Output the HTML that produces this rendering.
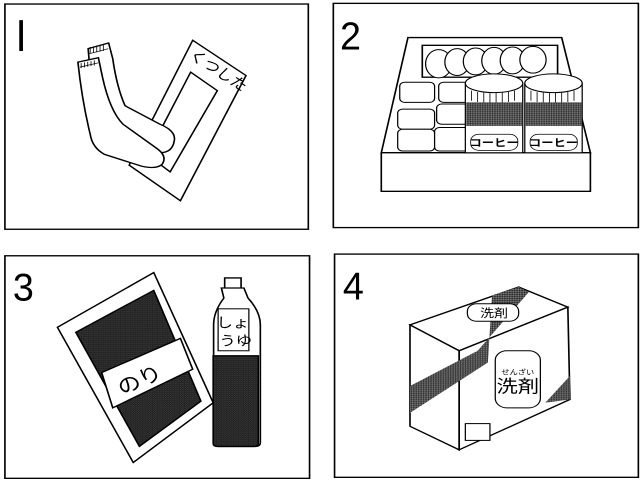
<!DOCTYPE html>
<html><head><meta charset="utf-8"><style>
html,body{margin:0;padding:0;background:#fff;width:640px;height:480px;overflow:hidden}
svg{display:block}
text{font-family:"Liberation Sans","Noto Sans CJK JP",sans-serif}
</style></head><body>
<svg width="640" height="480" viewBox="0 0 1561 1430" preserveAspectRatio="none" xmlns="http://www.w3.org/2000/svg">
<defs>
<pattern id="dk" width="6" height="6" patternUnits="userSpaceOnUse"><rect width="6" height="6" fill="#222"/><rect x="1" y="2" width="2" height="1" fill="#777"/><rect x="4" y="4" width="1" height="1" fill="#999"/></pattern>
<pattern id="md" width="6" height="6" patternUnits="userSpaceOnUse"><rect width="6" height="6" fill="#555"/><rect x="0" y="0" width="3" height="3" fill="#222"/><rect x="3" y="3" width="2" height="2" fill="#aaa"/></pattern>
</defs>
<g fill="none" stroke="#000" stroke-width="4">
<rect x="12" y="12" width="740" height="671"/>
<rect x="813" y="10" width="744" height="668"/>
<rect x="12" y="762" width="743" height="663"/>
<rect x="816" y="757" width="741" height="665"/>
</g>
<rect x="47" y="60" width="9" height="92" fill="#000"/>
<g font-size="115" fill="#000" text-anchor="middle">
<text x="855" y="148" transform="translate(855,0) scale(0.8,1) translate(-855,0)">2</text>
<text x="57" y="895" transform="translate(57,0) scale(0.8,1) translate(-57,0)">3</text>
<text x="862" y="893" transform="translate(862,0) scale(0.8,1) translate(-862,0)">4</text>
</g>

<!-- Panel 1 -->
<g fill="#fff" stroke="#000" stroke-width="4">
<polygon points="470,120 600,225 440,598 315,492"/>
<polygon points="465,215 530,270 415,512 360,462"/>
<path d="M215,145 L265,128 L275,175 Q285,260 305,315 L390,370 Q430,390 425,420 Q420,455 390,455 L330,445 Q255,420 240,370 Q225,300 215,145Z"/>
<path d="M190,185 L240,172 L250,230 Q268,330 300,370 L380,440 Q410,465 395,490 Q380,505 345,495 L255,460 Q225,440 220,400 Q200,300 190,185Z"/>
</g>
<g stroke="#000" stroke-width="2">
<path d="M218,160 L264,145 M195,200 L240,187 M220,140 v20 M228,138 v20 M236,136 v20 M244,134 v20 M252,132 v20 M198,188 v15 M206,186 v15 M214,184 v15 M222,182 v15 M230,180 v15"/>
</g>
<text x="0" y="0" font-size="42" transform="translate(458,170) rotate(38)" fill="#000">くつした</text>

<!-- Panel 2 -->
<g fill="#fff" stroke="#000" stroke-width="4">
<polygon points="995,112 1370,112 1440,455 930,455"/>
<rect x="1030" y="135" width="330" height="95"/>
<rect x="930" y="455" width="510" height="115"/>
</g>
<g fill="#fff" stroke="#000" stroke-width="3">
<ellipse cx="1070" cy="190" rx="32" ry="42"/><ellipse cx="1115" cy="185" rx="30" ry="40"/><ellipse cx="1160" cy="183" rx="30" ry="40"/><ellipse cx="1205" cy="181" rx="30" ry="40"/><ellipse cx="1250" cy="180" rx="30" ry="40"/><ellipse cx="1300" cy="178" rx="32" ry="40"/>
<rect x="975" y="245" width="85" height="60" rx="12"/><rect x="970" y="325" width="90" height="60" rx="12"/><rect x="970" y="385" width="90" height="65" rx="12"/>
<rect x="1070" y="245" width="75" height="60" rx="12"/><rect x="1065" y="310" width="80" height="60" rx="12"/><rect x="1060" y="380" width="85" height="70" rx="12"/>
<rect x="1135" y="250" width="140" height="205"/><rect x="1280" y="250" width="140" height="205"/>
<ellipse cx="1205" cy="248" rx="70" ry="28"/><ellipse cx="1350" cy="248" rx="70" ry="28"/>
</g>
<g stroke="#000" stroke-width="2">
<path d="M1150,270v30M1165,274v30M1180,276v30M1195,277v30M1210,277v30M1225,276v30M1240,274v30M1255,270v30"/>
<path d="M1295,270v30M1310,274v30M1325,276v30M1340,277v30M1355,277v30M1370,276v30M1385,274v30M1400,270v30"/>
</g>
<rect x="1137" y="305" width="136" height="70" fill="url(#md)"/>
<rect x="1282" y="305" width="136" height="70" fill="url(#md)"/>
<g stroke="#000" stroke-width="2" fill="#fff">
<rect x="1148" y="400" width="115" height="48" rx="20"/><rect x="1293" y="400" width="115" height="48" rx="20"/>
</g>
<text x="1205" y="437" font-size="30" text-anchor="middle" font-weight="bold">コーヒー</text>
<text x="1350" y="437" font-size="30" text-anchor="middle" font-weight="bold">コーヒー</text>

<!-- Panel 3 -->
<g stroke="#000" stroke-width="4">
<polygon points="140,975 375,812 520,1200 325,1378" fill="#fff"/>
<polygon points="185,990 375,865 490,1195 340,1330" fill="url(#dk)"/>
<polygon points="248,1110 440,1008 470,1100 275,1215" fill="#fff"/>
<path d="M548,828 h40 v30 h-40z M540,858 h55 l10,30 q30,40 30,80 v350 q0,12 -12,12 h-90 q-12,0 -12,-12 v-350 q0,-40 25,-80z" fill="#fff"/>
<rect x="532" y="920" width="75" height="125" fill="#fff" stroke-width="3"/>
<path d="M520,1060 h110 v260 q0,10 -10,10 h-90 q-10,0 -10,-10z" fill="url(#dk)"/>
</g>
<text x="350" y="1150" font-size="58" text-anchor="middle" transform="rotate(-28 350 1150)">のり</text>
<text x="568" y="975" font-size="40" text-anchor="middle">しょ</text>
<text x="575" y="1030" font-size="40" text-anchor="middle">うゆ</text>

<!-- Panel 4 -->
<g stroke="#000" stroke-width="4" fill="#fff">
<polygon points="1000,968 1265,855 1385,915 1120,1045"/>
<polygon points="1000,968 1120,1045 1120,1340 1000,1270"/>
<polygon points="1120,1045 1385,915 1390,1190 1120,1340"/>
</g>
<polygon points="1200,880 1265,855 1290,870 1165,1045 1000,1150 1000,1230 1190,1080" fill="url(#md)"/>
<polygon points="1330,1200 1390,1120 1390,1190" fill="url(#md)"/>
<g stroke="#000" stroke-width="3" fill="#fff">
<rect x="1140" y="905" width="125" height="52" rx="22"/>
<rect x="1208" y="1045" width="110" height="170" rx="28"/>
<rect x="1135" y="1262" width="60" height="50"/>
</g>
<text x="1205" y="945" font-size="34" text-anchor="middle">洗剤</text>
<text x="1263" y="1115" font-size="20" text-anchor="middle">せんざい</text>
<text x="1263" y="1170" font-size="52" text-anchor="middle">洗剤</text>
</svg>
</body></html>
